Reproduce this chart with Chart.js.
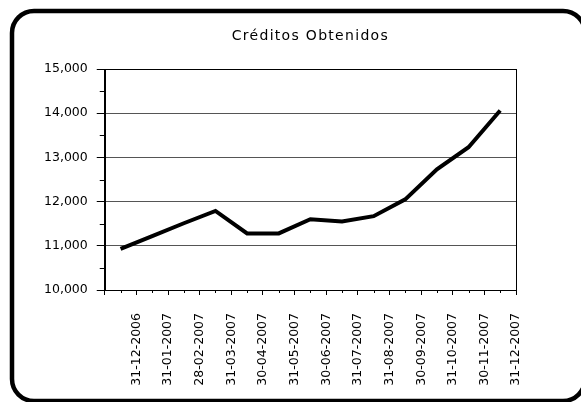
<!DOCTYPE html>
<html>
<head>
<meta charset="utf-8">
<title>Créditos Obtenidos</title>
<script src="https://cdn.jsdelivr.net/npm/chart.js@4"></script>
<style>
  html, body { margin: 0; padding: 0; background: #fff; overflow: hidden; }
</style>
</head>
<body>
<canvas id="chart" width="581" height="402"></canvas>
<script>
// values
const titulo = "Créditos Obtenidos";
const fechas = ["31-12-2006", "31-01-2007", "28-02-2007", "31-03-2007", "30-04-2007", "31-05-2007", "30-06-2007",
  "31-07-2007", "31-08-2007", "30-09-2007", "31-10-2007", "30-11-2007", "31-12-2007"];
const creditos = [10930, 11220, 11510, 11790, 11280, 11280, 11600, 11550, 11670, 12050, 12730, 13230, 14060];
const ticksY = [10000, 11000, 12000, 13000, 14000, 15000];

const fuente = '"DejaVu Sans", Verdana, sans-serif';

// rounded black frame round the whole chart
const marco = {
  id: 'marco',
  beforeDraw(chart) {
    const ctx = chart.ctx;
    ctx.save();
    ctx.fillStyle = '#fff';
    ctx.fillRect(0, 0, chart.width, chart.height);
    ctx.strokeStyle = '#000';
    ctx.lineWidth = 4.5;
    ctx.beginPath();
    ctx.roundRect(12, 11, 573, 390, 22);
    ctx.stroke();
    ctx.restore();
  }
};

// title centred over the plot area, minor ticks and the plot border
const extras = {
  id: 'extras',
  afterDraw(chart) {
    const ctx = chart.ctx;
    const area = chart.chartArea;
    const x = chart.scales.x;
    const y = chart.scales.y;
    ctx.save();
    ctx.font = '14px ' + fuente;
    ctx.letterSpacing = '1.3px';
    ctx.fillStyle = '#000';
    ctx.textAlign = 'center';
    ctx.textBaseline = 'middle';
    ctx.fillText(titulo, (area.left + area.right) / 2, area.top - 33);
    ctx.restore();

    ctx.save();
    ctx.strokeStyle = '#000';
    ctx.lineWidth = 1;
    ctx.beginPath();
    // minor ticks on y, halfway between labels
    for (let i = 0; i < y.ticks.length - 1; i++) {
      const mid = (y.ticks[i].value + y.ticks[i + 1].value) / 2;
      const py = Math.round(y.getPixelForValue(mid)) + 0.5;
      ctx.moveTo(area.left - 5, py);
      ctx.lineTo(area.left, py);
    }
    // minor ticks on x, at each point
    for (let i = 0; i < fechas.length; i++) {
      const px = Math.round(x.getPixelForValue(i)) + 0.5;
      ctx.moveTo(px, area.bottom);
      ctx.lineTo(px, area.bottom + 3);
    }
    ctx.stroke();
    ctx.strokeRect(Math.round(area.left) + 0.5, Math.round(area.top) + 0.5,
      Math.round(area.right - area.left), Math.round(area.bottom - area.top));
    ctx.restore();
  }
};

new Chart(document.getElementById('chart'), {
  type: 'line',
  data: {
    labels: fechas,
    datasets: [{
      data: creditos,
      borderColor: '#000',
      borderWidth: 4,
      pointRadius: 0,
      tension: 0,
      fill: false
    }]
  },
  options: {
    responsive: false,
    animation: false,
    devicePixelRatio: 1,
    layout: { padding: { top: 69, left: 35, right: 65, bottom: 0 } },
    plugins: {
      legend: { display: false },
      title: { display: false },
      tooltip: { enabled: false }
    },
    scales: {
      x: {
        offset: true,
        afterFit: (scale) => { scale.height = 112; },
        grid: { offset: true, drawOnChartArea: false, tickLength: 5, tickColor: '#000' },
        border: { color: '#000' },
        ticks: {
          minRotation: 90,
          maxRotation: 90,
          autoSkip: false,
          padding: 18,
          labelOffset: 16,
          color: '#000',
          font: { family: fuente, size: 12.5 }
        }
      },
      y: {
        min: ticksY[0],
        max: ticksY[ticksY.length - 1],
        grid: { color: '#555', tickLength: 8, tickColor: '#000' },
        border: { color: '#000' },
        ticks: {
          stepSize: ticksY[1] - ticksY[0],
          padding: 9,
          color: '#000',
          font: { family: fuente, size: 12.5 },
          callback: (v) => v.toLocaleString('en-US')
        }
      }
    }
  },
  plugins: [marco, extras]
});
</script>
</body>
</html>
